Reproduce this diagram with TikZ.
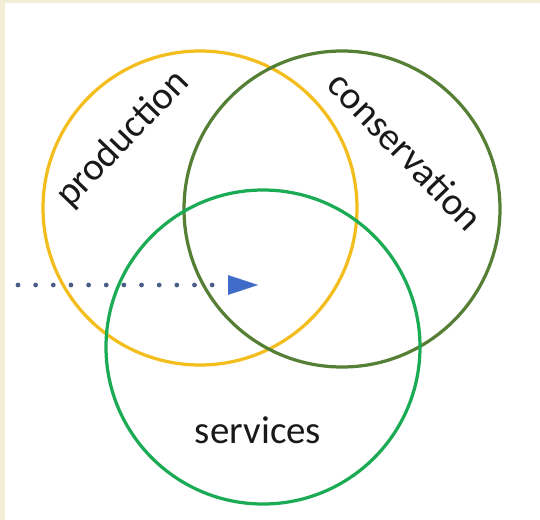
\documentclass[tikz,border=0pt]{standalone}
\usepackage{fontspec}
\setmainfont{Carlito}
\usetikzlibrary{arrows.meta}

\definecolor{prodyellow}{HTML}{F2BD1D}
\definecolor{consgreen}{HTML}{557F35}
\definecolor{servgreen}{HTML}{1AAB54}
\definecolor{dotblue}{HTML}{4A5D86}
\definecolor{tipblue}{HTML}{3F6BC9}
\definecolor{paper}{HTML}{F4EDD8}

\begin{document}
\begin{tikzpicture}[x=0.025cm, y=-0.025cm,
    ring/.style={line width=2.3pt},
    label/.style={font=\fontsize{27.7}{33}\selectfont, text=black!90}]
    \useasboundingbox (0,0) rectangle (540,520);

    % Draw the page edge
    \fill[paper] (0,0) rectangle (540,3);
    \fill[paper] (0,0) rectangle (5,520);

    % Draw the three circles
    \draw[ring, prodyellow] (200,208) circle (157);
    \draw[ring, consgreen] (342,209) circle (158);
    \draw[ring, servgreen] (263,347) circle (157);

    % Labels
    \node[label, rotate=46] (prod) at (123,139) {production};
    \node[label, rotate=-46] (cons) at (406,151) {conservation};
    \node[label] (serv) at (258,430) {services};

    % Draw the dotted arrow
    \coordinate (flowstart) at (18,285);
    \coordinate (flowend) at (213,285);
    \coordinate (tipbase) at (228,285);
    \coordinate (tiptip) at (258,285);
    \draw[dotblue, line width=3.4pt, line cap=round, dash pattern=on 0pt off 12.55pt] (flowstart) -- (flowend);
    \draw[tipblue, line width=0.1pt, -{Triangle[length=21.3pt, width=14pt]}] (tipbase) -- (tiptip);
  \end{tikzpicture}
\end{document}
